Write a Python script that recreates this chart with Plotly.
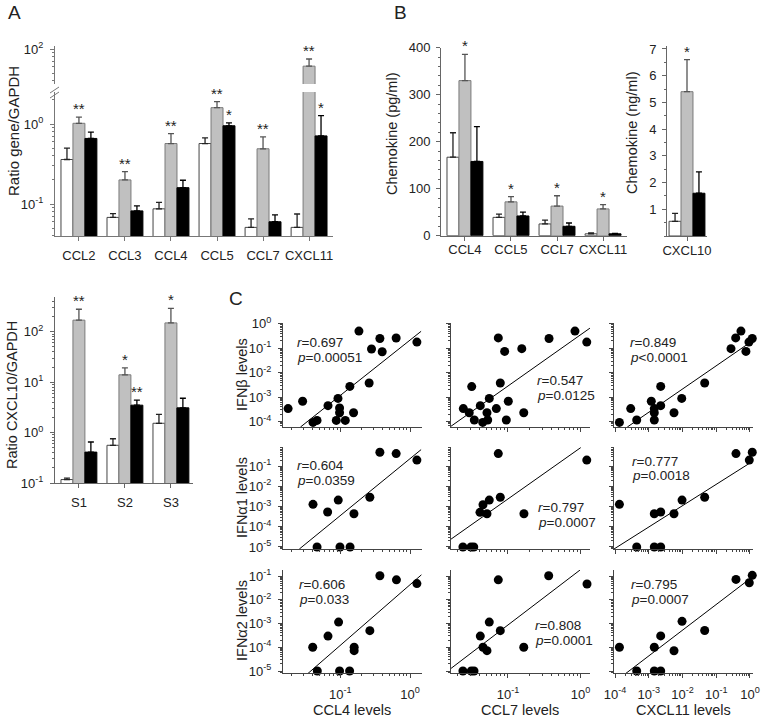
import numpy as np
import plotly.graph_objects as go

W, H = 765, 719
FONT = "Liberation Sans, Arial, sans-serif"
TXT = "#222222"

# ---------------- Panel A: ratio gene / GAPDH ----------------
a_genes = ["CCL2", "CCL3", "CCL4", "CCL5", "CCL7", "CXCL11"]
a_white = [0.36, 0.068, 0.087, 0.57, 0.051, 0.051]
a_white_top = [0.50, 0.076, 0.105, 0.67, 0.065, 0.075]
a_gray = [1.02, 0.20, 0.57, 1.6, 0.49, 61.0]
a_gray_top = [1.22, 0.254, 0.76, 1.9, 0.69, 75.0]
a_black = [0.66, 0.082, 0.16, 0.95, 0.06, 0.71]
a_black_top = [0.79, 0.095, 0.198, 1.03, 0.073, 1.27]
a_gray_sig = ["**", "**", "**", "**", "**", "**"]
a_black_sig = ["", "", "", "*", "", "*"]

# ---------------- Panel B: chemokine protein ----------------
b_genes = ["CCL4", "CCL5", "CCL7", "CXCL11"]
b_white = [167, 39, 25, 4]
b_white_top = [219, 46, 33, 6]
b_gray = [330, 72, 63, 57]
b_gray_top = [386, 83, 85, 66]
b_black = [158, 42, 20, 4]
b_black_top = [232, 50, 27, 5]
b_gray_sig = ["*", "*", "*", "*"]

b2_genes = ["CXCL10"]
b2_white = [0.55]
b2_white_top = [0.85]
b2_gray = [5.4]
b2_gray_top = [6.6]
b2_black = [1.6]
b2_black_top = [2.4]
b2_gray_sig = ["*"]

# ---------------- Panel A lower: CXCL10 / GAPDH ----------------
s_groups = ["S1", "S2", "S3"]
s_white = [0.117, 0.56, 1.53]
s_white_top = [0.125, 0.755, 2.3]
s_gray = [170, 14, 150]
s_gray_top = [280, 19.3, 290]
s_black = [0.41, 3.5, 3.1]
s_black_top = [0.65, 4.4, 4.8]
s_gray_sig = ["**", "*", "*"]
s_black_sig = ["", "**", ""]

# ---------------- Panel C: correlations ----------------
# row 1: IFN-beta
r1c1_x = [0.0179, 0.0289, 0.0407, 0.0465, 0.0667, 0.0927, 0.0877, 0.0977, 0.0977, 0.118,
          0.137, 0.155, 0.185, 0.259, 0.280, 0.369, 0.398, 0.631, 1.25]
r1c1_y = [3.4e-4, 6.8e-4, 9.3e-5, 1.12e-4, 4.5e-4, 8.9e-4, 1.12e-4, 3.6e-4, 2.3e-4, 1.12e-4,
          2.75e-3, 2.3e-4, 0.50, 3.8e-3, 0.093, 0.25, 0.072, 0.26, 0.178]
r1c2_x = [0.0242, 0.0292, 0.0316, 0.0343, 0.0415, 0.0448, 0.0513, 0.0525, 0.0552, 0.069,
          0.0735, 0.0783, 0.0899, 0.0948, 0.101, 0.155, 0.165, 0.368, 0.839, 1.22]
r1c2_y = [3.4e-4, 2.3e-4, 2.7e-3, 1.17e-4, 4.5e-4, 9.3e-5, 2.3e-4, 1.17e-4, 8.9e-4, 3.4e-4,
          0.263, 3.8e-3, 0.074, 1.17e-4, 6.8e-4, 0.0955, 2.3e-4, 0.25, 0.50, 0.178]
r1c3_x = [1.35e-4, 2.92e-4, 4.4e-4, 1.19e-3, 1.46e-3, 1.46e-3, 1.46e-3, 2.26e-3, 2.26e-3,
          5.6e-3, 9.5e-3, 0.0455, 0.274, 0.377, 0.541, 0.76, 0.933, 1.17]
r1c3_y = [9.3e-5, 3.4e-4, 1.17e-4, 6.8e-4, 3.4e-4, 2.3e-4, 1.17e-4, 2.75e-3, 4.5e-4,
          2.3e-4, 8.9e-4, 3.8e-3, 0.0955, 0.263, 0.50, 0.074, 0.178, 0.25]
# row 2: IFN-alpha1
r2c1_x = [0.0407, 0.0465, 0.0659, 0.0935, 0.099, 0.138, 0.157, 0.265, 0.369, 0.631, 1.25]
r2c1_y = [1.29e-3, 1e-5, 5.4e-4, 2.1e-3, 1e-5, 1e-5, 4.4e-4, 2.9e-3, 0.49, 0.42, 0.20]
r2c2_x = [0.0239, 0.0309, 0.0337, 0.0411, 0.0452, 0.0513, 0.0552, 0.0735, 0.0783, 0.166, 1.22]
r2c2_y = [1e-5, 1e-5, 1e-5, 5.2e-4, 1.23e-3, 4.4e-4, 2.1e-3, 0.42, 2.9e-3, 4.4e-4, 0.20]
r2c3_x = [1.35e-4, 4.4e-4, 1.46e-3, 1.46e-3, 2.26e-3, 2.26e-3, 5.6e-3, 9.7e-3, 0.0455,
          0.385, 0.955, 1.17]
r2c3_y = [1.29e-3, 1e-5, 4.4e-4, 1e-5, 5.4e-4, 1e-5, 4.4e-4, 2.1e-3, 2.9e-3, 0.42, 0.20, 0.49]
# row 3: IFN-alpha2
r3c1_x = [0.0403, 0.0469, 0.0667, 0.0946, 0.0977, 0.136, 0.158, 0.158, 0.265, 0.369, 0.637, 1.25]
r3c1_y = [1e-4, 1e-5, 2.95e-4, 1.15e-3, 1e-5, 1e-5, 1e-4, 7.2e-5, 5.0e-4, 0.102, 0.069, 0.048]
r3c2_x = [0.0239, 0.0312, 0.034, 0.0415, 0.0452, 0.0513, 0.0552, 0.0735, 0.0783, 0.165, 0.364, 1.23]
r3c2_y = [1e-5, 1e-5, 1e-5, 2.95e-4, 1e-4, 7.2e-5, 1.15e-3, 0.069, 5.0e-4, 1e-4, 0.102, 0.046]
r3c3_x = [1.35e-4, 4.4e-4, 1.46e-3, 1.46e-3, 2.26e-3, 2.26e-3, 5.6e-3, 9.7e-3, 0.0455,
          0.385, 0.955, 1.17]
r3c3_y = [1e-4, 1e-5, 1e-4, 1e-5, 3.0e-4, 1e-5, 7.1e-5, 1.23e-3, 5.1e-4, 0.072, 0.052, 0.107]

# fitted regression lines (end points)
fit_x = [[0.0269, 1.436], [0.0164, 1.35], [2.31e-4, 1.05],
         [0.0259, 1.436], [0.0164, 1.007], [9.3e-5, 1.25],
         [0.0345, 1.45], [0.0164, 0.984], [2.09e-4, 1.10]]
fit_y = [[6.0e-5, 0.49], [6.5e-5, 0.66], [6.0e-5, 0.178],
         [7.9e-6, 0.66], [2.45e-5, 0.83], [7.9e-6, 0.182],
         [7.9e-6, 0.112], [1.29e-5, 0.178], [7.9e-6, 0.085]]
stat_r = ["0.697", "0.547", "0.849", "0.604", "0.797", "0.777", "0.606", "0.808", "0.795"]
stat_p = ["=0.00051", "=0.0125", "<0.0001", "=0.0359", "=0.0007", "=0.0018",
          "=0.033", "=0.0001", "=0.0007"]

c_xtitles = ["CCL4 levels", "CCL7 levels", "CXCL11 levels"]
c_ytitles = ["IFN\u03b2 levels", "IFN\u03b11 levels", "IFN\u03b12 levels"]

scatter_x = [r1c1_x, r1c2_x, r1c3_x, r2c1_x, r2c2_x, r2c3_x, r3c1_x, r3c2_x, r3c3_x]
scatter_y = [r1c1_y, r1c2_y, r1c3_y, r2c1_y, r2c2_y, r2c3_y, r3c1_y, r3c2_y, r3c3_y]


# ---------------- helpers ----------------
def xd(a, b):
    return [a / W, b / W]


def yd(top, bot):
    return [1 - bot / H, 1 - top / H]


def sup(e):
    return "10<sup>%d</sup>" % e


def minor_log(e0, e1):
    return [m * 10.0 ** e for e in range(e0, e1 + 1) for m in range(2, 10)]


def label(px, py, text, size=14.5, angle=0, xanchor="center"):
    return dict(x=px / W, y=1 - py / H, xref="paper", yref="paper", text=text,
                textangle=angle, showarrow=False, xanchor=xanchor, yanchor="middle",
                font=dict(size=size, color=TXT, family=FONT))


TICKF = dict(size=13, color=TXT, family=FONT)
BASE = dict(showline=True, linewidth=1, showgrid=False, zeroline=False, automargin=False,
            ticks="outside", ticklen=4, tickwidth=1, tickfont=TICKF)

fig = go.Figure()
ann = []
shapes = []

BAR_W = 0.26
OFFS = [-0.39, -0.13, 0.13]
STYLE = [("white", "#444444", "#222222"),
         ("#c0c0c0", "#7a7a7a", "#555555"),
         ("black", "black", "black")]


def add_bars(cats, series, tops, xa, ya, keep=None):
    for (vals, top), off, (fill, line, ecol) in zip(zip(series, tops), OFFS, STYLE):
        v = list(vals)
        if keep is not None:
            v = [val if keep(val) else None for val in vals]
        fig.add_trace(go.Bar(
            x=cats, y=v, width=BAR_W, offset=off, xaxis=xa, yaxis=ya,
            marker=dict(color=fill, line=dict(color=line, width=1)),
            error_y=dict(type="data", symmetric=False,
                         array=[t - val for t, val in zip(top, vals)],
                         arrayminus=[0] * len(vals),
                         color=ecol, thickness=1.3, width=3),
            showlegend=False, hoverinfo="skip"))


def add_sig(cats, tops, sigs, shift, xref, yref, logaxis, font=15):
    for c, t, s in zip(cats, tops, sigs):
        if not s:
            continue
        ann.append(dict(x=c, y=np.log10(t) if logaxis else t, xref=xref, yref=yref,
                        text=s, showarrow=False, xshift=shift, xanchor="center",
                        yanchor="bottom", yshift=-2,
                        font=dict(size=font, color=TXT, family=FONT)))


# ---------- Panel A (broken log axis) ----------
A_LOW = [-1.4, 0.4]
A_UP = [1.5625, 2.0375]
add_bars(a_genes, [a_white, a_gray, a_black], [a_white_top, a_gray_top, a_black_top], "x", "y")
add_bars(a_genes, [a_white, a_gray, a_black], [a_white_top, a_gray_top, a_black_top], "x2", "y2",
         keep=lambda v: np.log10(v) > A_UP[0])
for c, t, s in zip(a_genes, a_gray_top, a_gray_sig):
    up = np.log10(t) > A_UP[0]
    add_sig([c], [t], [s], 0, "x2" if up else "x", "y2" if up else "y", True)
add_sig(a_genes, a_black_top, a_black_sig, 12, "x", "y", True)

fig.update_layout(
    xaxis=dict(BASE, domain=xd(55, 333), anchor="y", type="category", range=[-0.52, 5.52],
               linecolor="#777", tickcolor="#777", ticklabelstandoff=3),
    yaxis=dict(BASE, domain=yd(92, 236), anchor="x", type="log", range=A_LOW,
               linecolor="#777", tickcolor="#777", ticklabelstandoff=4,
               tickvals=[0.1, 1], ticktext=[sup(-1), sup(0)],
               minor=dict(tickvals=minor_log(-2, 0), ticks="outside", ticklen=2, tickcolor="#777")),
    xaxis2=dict(BASE, domain=xd(55, 333), anchor="y2", type="category", range=[-0.52, 5.52],
                showline=False, ticks="", showticklabels=False),
    yaxis2=dict(BASE, domain=yd(46, 84), anchor="x2", type="log", range=A_UP,
                linecolor="#777", tickcolor="#777", ticklabelstandoff=4,
                tickvals=[100], ticktext=[sup(2)],
                minor=dict(tickvals=minor_log(1, 1), ticks="outside", ticklen=2, tickcolor="#777")),
)
# axis break marks
for dy in (0, 5):
    shapes.append(dict(type="line", xref="paper", yref="paper",
                       x0=50 / W, x1=59 / W, y0=1 - (93 + dy) / H, y1=1 - (87 + dy) / H,
                       line=dict(color="#777", width=1)))
ann.append(label(14, 131, "Ratio gene/GAPDH", 15, -90))

# ---------- Panel B ----------
add_bars(b_genes, [b_white, b_gray, b_black], [b_white_top, b_gray_top, b_black_top], "x3", "y3")
add_sig(b_genes, b_gray_top, b_gray_sig, 0, "x3", "y3", False)
add_bars(b2_genes, [b2_white, b2_gray, b2_black], [b2_white_top, b2_gray_top, b2_black_top], "x4", "y4")
add_sig(b2_genes, b2_gray_top, b2_gray_sig, 0, "x4", "y4", False)
fig.update_layout(
    xaxis3=dict(BASE, domain=xd(441, 627), anchor="y3", type="category", range=[-0.52, 3.52],
                linecolor="#666", tickcolor="#666", ticklabelstandoff=-2),
    yaxis3=dict(BASE, domain=yd(47.7, 235.7), anchor="x3", range=[0, 400], dtick=100,
                linecolor="#666", tickcolor="#666", ticklabelstandoff=3,
                minor=dict(dtick=20, ticks="outside", ticklen=2, tickcolor="#666")),
    xaxis4=dict(BASE, domain=xd(667, 707), anchor="y4", type="category", range=[-0.435, 0.435],
                linecolor="#666", tickcolor="#666", ticklabelstandoff=-2),
    yaxis4=dict(BASE, domain=yd(46, 236), anchor="x4", range=[0, 7.11],
                linecolor="#666", tickcolor="#666", ticklabelstandoff=3,
                tickvals=[1, 2, 3, 4, 5, 6, 7],
                minor=dict(dtick=0.5, ticks="outside", ticklen=2, tickcolor="#666")),
)
ann.append(label(392, 133, "Chemokine (pg/ml)", 14.5, -90))
ann.append(label(632, 133, "Chemokine (ng/ml)", 14.5, -90))

# ---------- Panel A lower (CXCL10) ----------
add_bars(s_groups, [s_white, s_gray, s_black], [s_white_top, s_gray_top, s_black_top], "x5", "y5")
add_sig(s_groups, s_gray_top, s_gray_sig, 0, "x5", "y5", True)
add_sig(s_groups, s_black_top, s_black_sig, 12, "x5", "y5", True)
fig.update_layout(
    xaxis5=dict(BASE, domain=xd(55, 193), anchor="y5", type="category", range=[-0.52, 2.48],
                linecolor="#666", tickcolor="#666", ticklabelstandoff=3),
    yaxis5=dict(BASE, domain=yd(297, 483), anchor="x5", type="log", range=[-1, 2.69],
                linecolor="#666", tickcolor="#666", ticklabelstandoff=4,
                tickvals=[0.1, 1, 10, 100], ticktext=[sup(-1), sup(0), sup(1), sup(2)],
                minor=dict(tickvals=minor_log(-1, 2), ticks="outside", ticklen=2, tickcolor="#666")),
)
ann.append(label(12, 395, "Ratio CXCL10/GAPDH", 14.5, -90))

# ---------- Panel C ----------
cols = [((283, 422), [-1.82, 0.17], [-1, 0]),
        ((451, 590), [-1.786, 0.131], [-1, 0]),
        ((614, 753), [-4.03, 0.09], [-4, -3, -2, -1, 0])]
rows = [((323, 427), [-4.22, 0.03], [-4, -3, -2, -1, 0]),
        ((447, 549), [-5.1, -0.05], [-5, -4, -3, -2, -1]),
        ((570, 673), [-5.084, -0.747], [-5, -4, -3, -2, -1])]
stat_pos = [(295, 342), (535, 380), (628, 342),
            (295, 465), (536, 507), (630, 461),
            (297, 584), (533, 625), (629, 584)]

for r in range(3):
    for c in range(3):
        k = r * 3 + c
        n = 6 + k
        (x0, x1), xr, xdec = cols[c]
        (y0, y1), yr, ydec = rows[r]
        fig.add_trace(go.Scatter(
            x=fit_x[k], y=fit_y[k], mode="lines", xaxis="x%d" % n, yaxis="y%d" % n,
            line=dict(color="black", width=1), showlegend=False, hoverinfo="skip"))
        fig.add_trace(go.Scatter(
            x=scatter_x[k], y=scatter_y[k], mode="markers", xaxis="x%d" % n, yaxis="y%d" % n,
            marker=dict(color="black", size=9), cliponaxis=False,
            showlegend=False, hoverinfo="skip"))
        fig.layout["xaxis%d" % n] = dict(
            BASE, domain=xd(x0, x1), anchor="y%d" % n, type="log", range=xr,
            linecolor="#444", tickcolor="#444",
            tickvals=[10.0 ** e for e in xdec], ticktext=[sup(e) for e in xdec],
            showticklabels=(r == 2), ticklabelstandoff=5,
            minor=dict(tickvals=minor_log(-6, 0), ticks="outside", ticklen=2, tickcolor="#444"))
        fig.layout["yaxis%d" % n] = dict(
            BASE, domain=yd(y0, y1), anchor="x%d" % n, type="log", range=yr,
            linecolor="#444", tickcolor="#444", ticklabelstandoff=4,
            tickvals=[10.0 ** e for e in ydec], ticktext=[sup(e) for e in ydec],
            showticklabels=(c == 0),
            minor=dict(tickvals=minor_log(-6, 0), ticks="outside", ticklen=2, tickcolor="#444"))
        sx, sy = stat_pos[k]
        ann.append(label(sx, sy, "<i>r</i>=" + stat_r[k], 13.5, 0, "left"))
        ann.append(label(sx, sy + 15, "<i>p</i>" + stat_p[k], 13.5, 0, "left"))

for xc, t in zip([352, 520, 683], c_xtitles):
    ann.append(label(xc, 710, t, 14.5))
for yc, t in zip([375, 498, 621], c_ytitles):
    ann.append(label(242, yc, t, 14.5, -90))

# panel letters
for letter, (lx, ly) in zip(["A", "B", "C"], [(14, 13), (400, 12), (236, 298)]):
    ann.append(label(lx, ly, letter, 19))

fig.update_layout(
    width=W, height=H, margin=dict(l=0, r=0, t=0, b=0, autoexpand=False),
    paper_bgcolor="white", plot_bgcolor="rgba(0,0,0,0)",
    font=dict(family=FONT, color=TXT),
    barmode="overlay", showlegend=False,
    annotations=ann, shapes=shapes,
)

fig.write_html("out.html", config={"displayModeBar": False, "staticPlot": True},
               post_script="document.body.style.margin='0px';")
